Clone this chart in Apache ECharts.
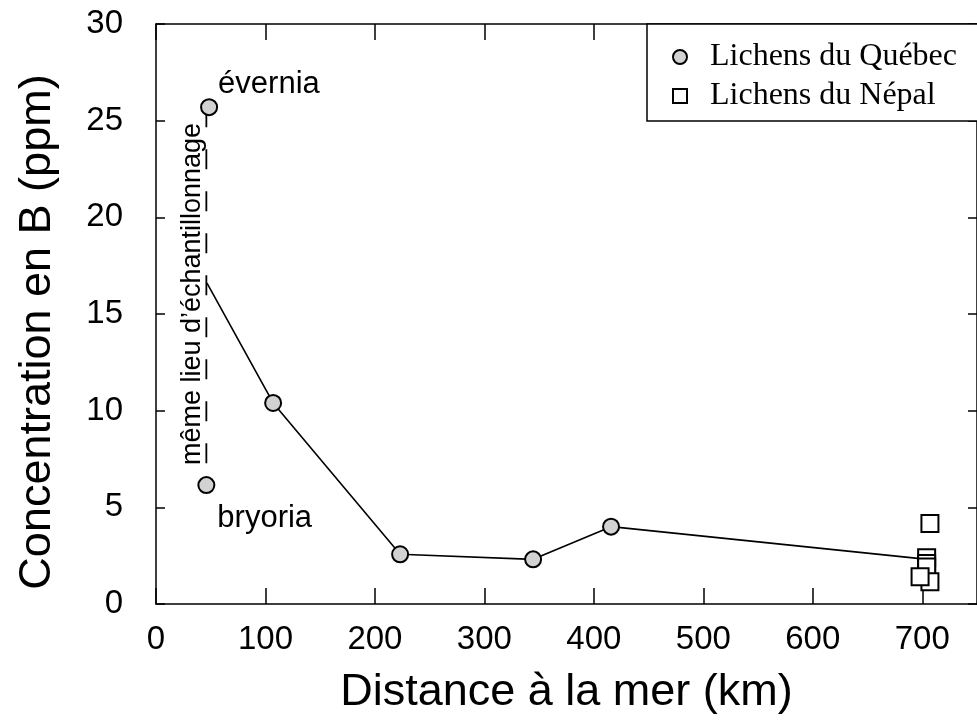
<!DOCTYPE html>
<html>
<head>
<meta charset="utf-8">
<script src="https://cdn.jsdelivr.net/npm/echarts@6/dist/echarts.min.js"></script>
<style>html,body{margin:0;padding:0;background:#fff;}#chart{width:977px;height:720px;}</style>
</head>
<body>
<div id="chart"></div>
<script>
// Québec lichens (distance km, B ppm)
const quebecPoints = [[48.5, 25.7], [46, 6.15], [107, 10.4], [223, 2.57], [344.5, 2.31], [415.7, 4.0]];
const quebecLabels = ['évernia', 'bryoria', '', '', '', ''];
// trend line (starts at the mean of the two same-site samples)
const trendLine = [[46.6, 16.6], [107, 10.4], [223, 2.57], [344.5, 2.31], [415.7, 4.0], [696, 2.36]];
// dashed "same sampling site" link
const sameSite = [[46, 25.7], [46, 6.15]];
// Nepal lichens
const nepalPoints = [[707, 4.17], [704, 2.39], [704, 2.10], [704, 1.92], [707, 1.15], [698, 1.41]];
const xTicks = [0, 100, 200, 300, 400, 500, 600, 700];
const yTicks = [0, 5, 10, 15, 20, 25, 30];

const chart = echarts.init(document.getElementById('chart'), null, {renderer: 'canvas'});
const sans = 'Liberation Sans';
const axisCommonTick = {inside: true, lineStyle: {color: '#000', width: 1.5}};

const option = {
  backgroundColor: '#fff',
  animation: false,
  grid: {left: 156, top: 24, right: -6, bottom: 116, containLabel: false},
  legend: {
    orient: 'vertical',
    left: 647, top: 24,
    padding: [17, 40, 9, 25],
    itemGap: 7,
    itemWidth: 50, itemHeight: 14,
    backgroundColor: '#fff',
    borderColor: '#000', borderWidth: 1.5,
    textStyle: {fontFamily: 'Liberation Serif', fontSize: 32, color: '#000'},
    data: [
      {name: 'Lichens du Québec', icon: 'circle'},
      {name: 'Lichens du Népal', icon: 'path://M0,0L10,0L10,10L0,10Z'}
    ]
  },
  xAxis: [{
    type: 'value', min: 0, max: 750, interval: 100,
    name: 'Distance à la mer (km)', nameLocation: 'middle', nameGap: 66,
    nameTextStyle: {fontFamily: sans, fontSize: 45, color: '#000'},
    axisLine: {show: true, onZero: false, lineStyle: {color: '#000', width: 1.5}},
    axisTick: Object.assign({length: 16}, axisCommonTick),
    axisLabel: {fontFamily: sans, fontSize: 33, color: '#000', margin: 19, showMaxLabel: false,
      formatter: v => xTicks.includes(v) ? String(v) : ''},
    splitLine: {show: false}
  }, {
    type: 'value', position: 'top', min: 0, max: 750, interval: 100,
    axisLine: {show: true, onZero: false, lineStyle: {color: '#000', width: 1.5}},
    axisTick: Object.assign({length: 16}, axisCommonTick),
    axisLabel: {show: false}, splitLine: {show: false}
  }],
  yAxis: [{
    type: 'value', min: 0, max: 30, interval: 5,
    axisLine: {show: true, onZero: false, lineStyle: {color: '#000', width: 1.5}},
    axisTick: Object.assign({length: 9}, axisCommonTick),
    axisLabel: {fontFamily: sans, fontSize: 33, color: '#000', margin: 33,
      formatter: v => yTicks.includes(v) ? String(v) : ''},
    splitLine: {show: false}
  }, {
    type: 'value', position: 'right', min: 0, max: 30, interval: 5,
    axisLine: {show: true, onZero: false, lineStyle: {color: '#000', width: 1.5}},
    axisTick: Object.assign({length: 9}, axisCommonTick),
    axisLabel: {show: false}, splitLine: {show: false}
  }],
  series: [
    {
      name: 'trend', type: 'line', data: trendLine, symbol: 'none', z: 2,
      lineStyle: {color: '#000', width: 1.6}, silent: true
    },
    {
      name: 'sameSite', type: 'line', data: sameSite, symbol: 'none', z: 2,
      lineStyle: {color: '#000', width: 1.8, type: [20, 22]}, silent: true
    },
    {
      name: 'Lichens du Québec', type: 'scatter', symbol: 'circle', symbolSize: 16, z: 5,
      itemStyle: {color: '#d2d2d2', borderColor: '#000', borderWidth: 2, opacity: 1},
      data: quebecPoints.map((p, i) => {
        const d = {value: p};
        if (quebecLabels[i]) {
          d.label = {
            show: true, formatter: quebecLabels[i], position: 'right', distance: 0,
            offset: i === 0 ? [0, -23] : [2, 33],
            fontFamily: sans, fontSize: 31, color: '#000'
          };
        }
        return d;
      })
    },
    {
      name: 'Lichens du Népal', type: 'scatter', symbol: 'rect', symbolSize: 17, z: 6,
      itemStyle: {color: '#fff', borderColor: '#000', borderWidth: 2, opacity: 1},
      data: nepalPoints
    }
  ],
  graphic: [{
    type: 'text', x: 193, y: 294, rotation: Math.PI / 2, z: 10,
    style: {text: 'même lieu d\u2019échantillonnage', fontFamily: sans, fontSize: 27, fill: '#000',
      textAlign: 'center', textVerticalAlign: 'middle'}
  }, {
    type: 'text', x: 38, y: 332, rotation: Math.PI / 2, z: 10,
    style: {text: 'Concentration en B (ppm)', fontFamily: sans, fontSize: 45, fill: '#000',
      textAlign: 'center', textVerticalAlign: 'middle'}
  }]
};
chart.setOption(option);
</script>
</body>
</html>
